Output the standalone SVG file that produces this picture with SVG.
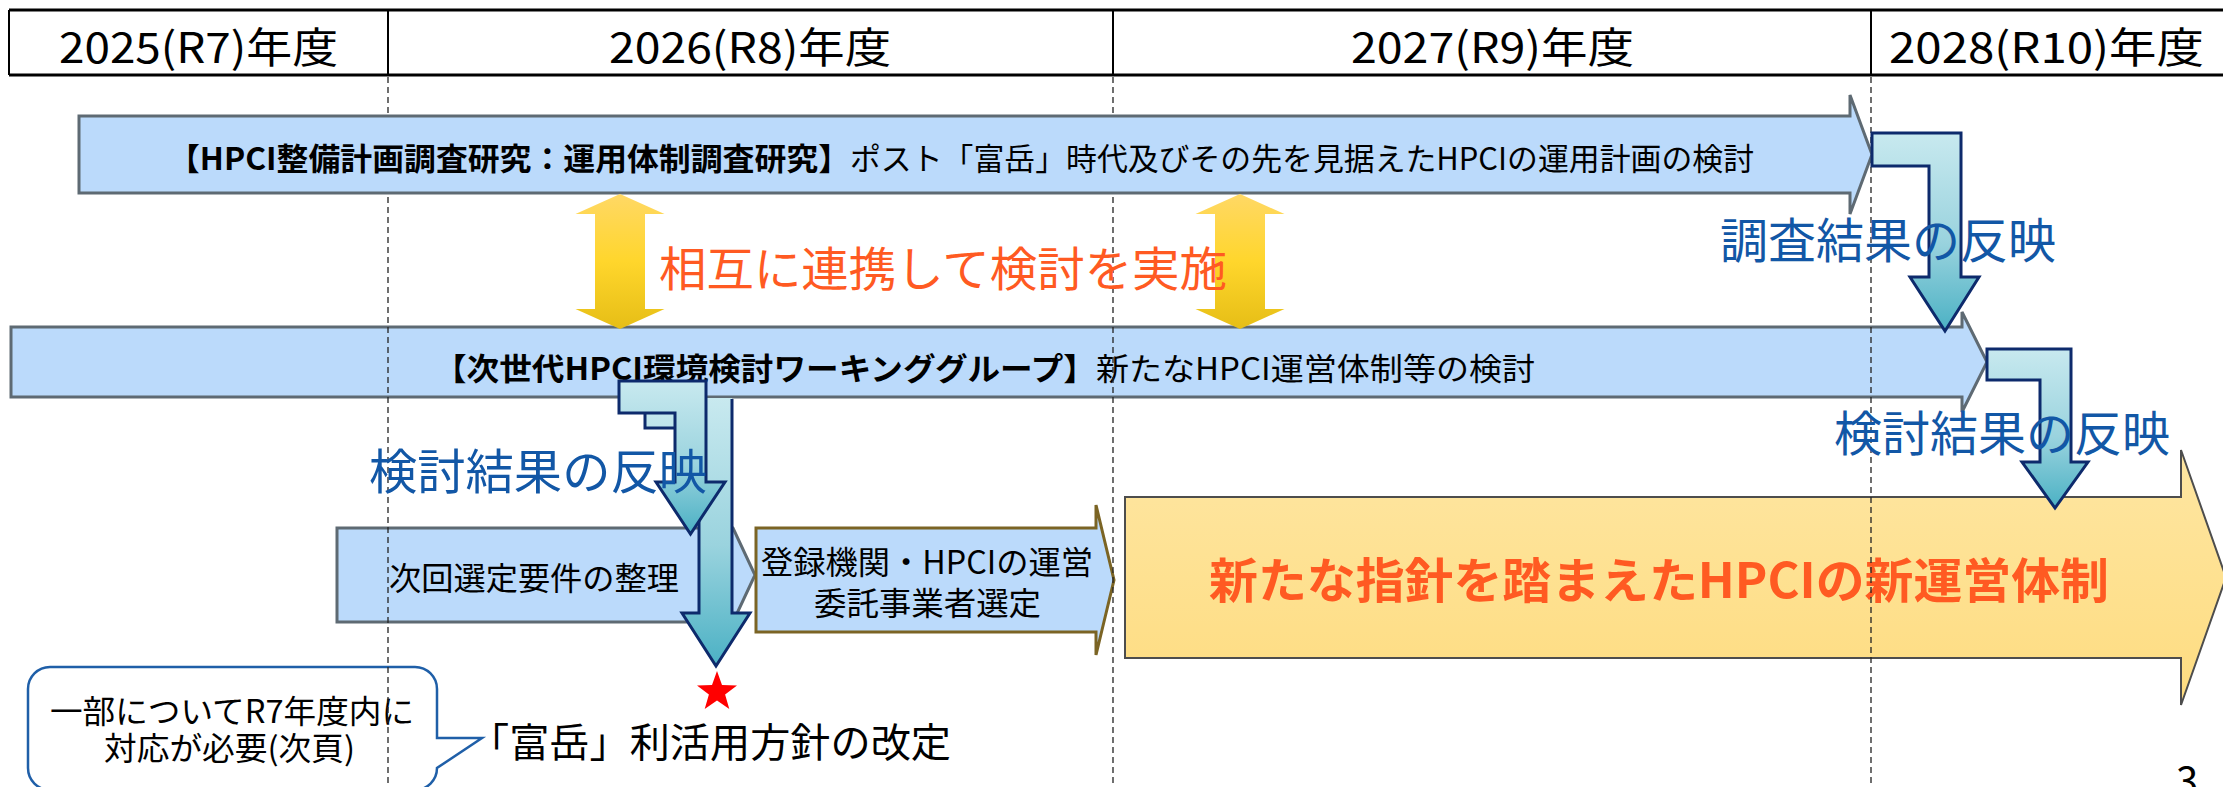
<svg xmlns="http://www.w3.org/2000/svg" width="2223" height="787" viewBox="0 0 2223 787">
<defs>
<linearGradient id="gBent" x1="0" y1="0" x2="0" y2="1">
<stop offset="0" stop-color="#c8e9ef"/>
<stop offset="0.55" stop-color="#9ad3de"/>
<stop offset="1" stop-color="#4bb1c4"/>
</linearGradient>
<linearGradient id="gYel" x1="0" y1="0" x2="0" y2="1">
<stop offset="0" stop-color="#ffd865"/>
<stop offset="0.5" stop-color="#ffd62c"/>
<stop offset="1" stop-color="#e6be16"/>
</linearGradient>
<linearGradient id="gBig" x1="0" y1="0" x2="0" y2="1">
<stop offset="0" stop-color="#fee6a2"/>
<stop offset="1" stop-color="#fedc80"/>
</linearGradient>
</defs>
<style>
text{font-family:"Noto Sans CJK JP","Noto Sans",sans-serif;fill:#000}
.bar{fill:#bbdafb;stroke:#5e6a73;stroke-width:3}
.bent{fill:url(#gBent);stroke:#0d2a6c;stroke-width:3;stroke-linejoin:miter}
.dbl{fill:url(#gYel)}
.dash{stroke:#222;stroke-width:1.3;stroke-dasharray:6 4;fill:none}
.hdr{font-size:42px}
.bb{font-size:31px;font-weight:700}
.bn{font-size:31px}
.blue{font-size:48px;fill:#1257a6}
.org{fill:#ff5a22}
</style>

<g id="header">
<rect x="9" y="10" width="2225" height="65" fill="#fff" stroke="none"/>
<line x1="9" y1="10" x2="2223" y2="10" stroke="#000" stroke-width="3"/>
<line x1="9" y1="75" x2="2223" y2="75" stroke="#000" stroke-width="3"/>
<line x1="9" y1="10" x2="9" y2="75" stroke="#000" stroke-width="2"/>
<line x1="388" y1="10" x2="388" y2="75" stroke="#000" stroke-width="2"/>
<line x1="1113" y1="10" x2="1113" y2="75" stroke="#000" stroke-width="2"/>
<line x1="1871" y1="10" x2="1871" y2="75" stroke="#000" stroke-width="2"/>
<text class="hdr" x="59" y="63" textLength="279" lengthAdjust="spacingAndGlyphs">2025(R7)年度</text>
<text class="hdr" x="609" y="63" textLength="282" lengthAdjust="spacingAndGlyphs">2026(R8)年度</text>
<text class="hdr" x="1351" y="63" textLength="283" lengthAdjust="spacingAndGlyphs">2027(R9)年度</text>
<text class="hdr" x="1889" y="63" textLength="315" lengthAdjust="spacingAndGlyphs">2028(R10)年度</text>
</g>

<g id="wg-bar">
<path class="bar" d="M11,327 H1962 V312 L1987,362 L1962,412 V397 H11 Z"/>
<text class="bb" x="434" y="380" textLength="662" lengthAdjust="spacingAndGlyphs">【次世代HPCI環境検討ワーキンググループ】</text>
<text class="bn" x="1096" y="380" textLength="439" lengthAdjust="spacingAndGlyphs">新たなHPCI運営体制等の検討</text>
</g>

<g id="new-system">
<path d="M1125,497 H2181 V450 L2226,577.5 L2181,705 V658 H1125 Z" fill="url(#gBig)" stroke="#4d4d4d" stroke-width="2"/>
<text x="1209" y="598" font-size="48" font-weight="700" class="org" textLength="900" lengthAdjust="spacingAndGlyphs">新たな指針を踏まえたHPCIの新運営体制</text>
</g>

<g id="requirements">
<path class="bar" d="M337,528 H733 L755,575 L733,622 H337 Z"/>
<text x="389" y="590" font-size="32" textLength="290" lengthAdjust="spacingAndGlyphs">次回選定要件の整理</text>
</g>

<g id="selection">
<path d="M756,528 H1096 V505 L1114,580 L1096,655 V632 H756 Z" fill="#bbdafb" stroke="#7b6424" stroke-width="3"/>
<text x="761" y="574" font-size="32" textLength="332" lengthAdjust="spacingAndGlyphs">登録機関・HPCIの運営</text>
<text x="814" y="615" font-size="32" textLength="227" lengthAdjust="spacingAndGlyphs">委託事業者選定</text>
</g>

<g id="callout">
<path d="M50,667 H415 A22,22 0 0 1 437,689 V738 L482,738 L437,768 A22,22 0 0 1 415,790 H50 A22,22 0 0 1 28,768 V689 A22,22 0 0 1 50,667 Z" fill="#fff" stroke="#1f5fa8" stroke-width="2.5"/>
<text x="50" y="723" font-size="32" textLength="364" lengthAdjust="spacingAndGlyphs">一部についてR7年度内に</text>
<text x="104" y="760" font-size="32" textLength="251" lengthAdjust="spacingAndGlyphs">対応が必要(次頁)</text>
</g>

<g id="gridlines">
<line class="dash" x1="388" y1="77" x2="388" y2="787"/>
<line class="dash" x1="1113" y1="77" x2="1113" y2="787"/>
<line class="dash" x1="1871" y1="77" x2="1871" y2="787"/>
</g>

<g id="research-bar">
<path class="bar" d="M79,116 H1850 V95 L1872,154.5 L1850,214 V193 H79 Z"/>
<text class="bb" x="168" y="170" textLength="682" lengthAdjust="spacingAndGlyphs">【HPCI整備計画調査研究：運用体制調査研究】</text>
<text class="bn" x="850" y="170" textLength="904" lengthAdjust="spacingAndGlyphs">ポスト「富岳」時代及びその先を見据えたHPCIの運用計画の検討</text>
</g>

<g id="connectors">
<path class="dbl" d="M620,194 L664.5,214 H645 V309 H664.5 L620,329 L575.5,309 H595 V214 H575.5 Z"/>
<path class="dbl" d="M1240,194 L1284.5,214 H1265 V309 H1284.5 L1240,329 L1195.5,309 H1215 V214 H1195.5 Z"/>
<path d="M645,398 H732 V613 H750 L716,666 L682,613 H699 V428 H645 Z" fill="url(#gBent)" stroke="none"/>
<path d="M645,399 V428 H699 V613 H682 L716,666 L750,613 H732 V399" fill="none" stroke="#0d2a6c" stroke-width="3"/>
<path class="bent" d="M619,381 H706 V482 H725 L690.5,534 L656,482 H675 V413 H619 Z"/>
<path class="bent" d="M1872,133 H1961 V277 H1979 L1945,331 L1910,277 H1929 V166 H1872 Z"/>
<path class="bent" d="M1987,349 H2071 V462 H2088 L2055,508 L2022,462 H2040 V380 H1987 Z"/>
</g>

<g id="labels">
<text class="org" x="659" y="286" font-size="47" textLength="568" lengthAdjust="spacingAndGlyphs">相互に連携して検討を実施</text>
<text class="blue" x="1720" y="258" textLength="336" lengthAdjust="spacingAndGlyphs">調査結果の反映</text>
<text class="blue" x="1834" y="451" textLength="336" lengthAdjust="spacingAndGlyphs">検討結果の反映</text>
<text class="blue" x="369" y="489" textLength="338" lengthAdjust="spacingAndGlyphs">検討結果の反映</text>
</g>

<g id="milestone">
<polygon points="717,671 722,685.1 737,685.5 725.1,694.6 729.3,709 717,700.5 704.7,709 708.9,694.6 697,685.5 712,685.1" fill="#ff0000"/>
<text x="469" y="757" font-size="40" textLength="482" lengthAdjust="spacingAndGlyphs">「富岳」利活用方針の改定</text>
</g>

<g id="page-number">
<text x="2176" y="796" font-size="40">3</text>
</g>
</svg>
